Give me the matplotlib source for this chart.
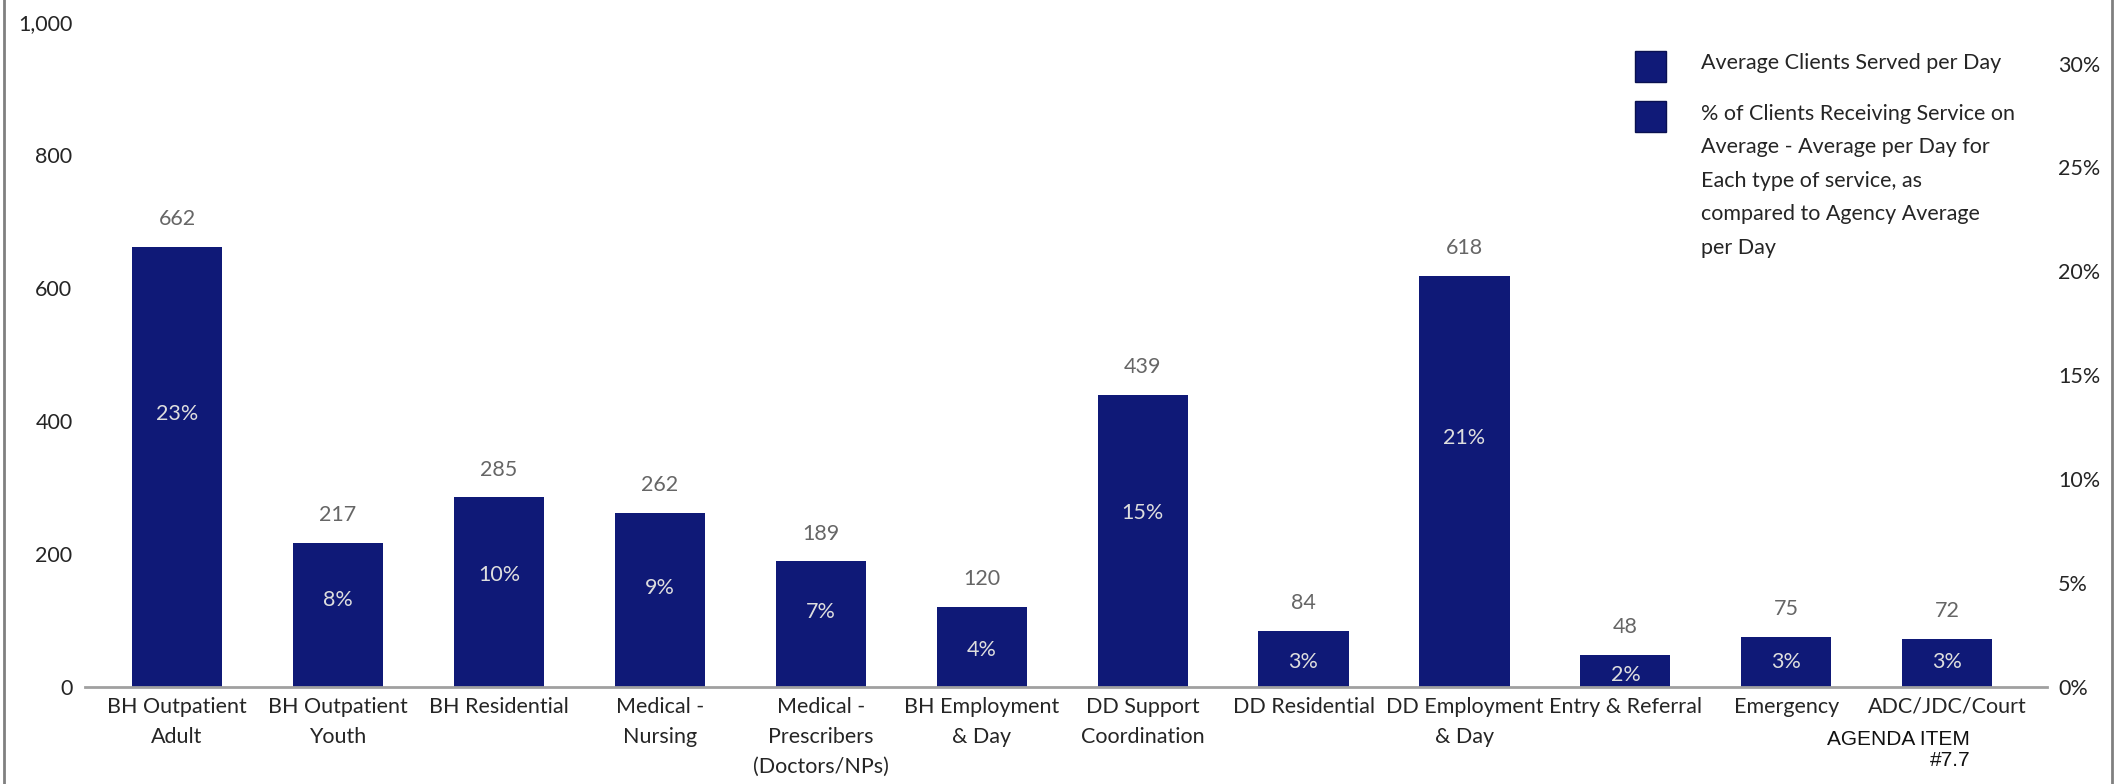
import matplotlib
matplotlib.use("Agg")
import matplotlib.pyplot as plt
from matplotlib.patches import Rectangle
from matplotlib.lines import Line2D
from matplotlib.ticker import FuncFormatter

plt.rcParams['font.family'] = ['Lato', 'DejaVu Sans']

# data
services = ["BH Outpatient\nAdult", "BH Outpatient\nYouth", "BH Residential",
            "Medical -\nNursing", "Medical -\nPrescribers\n(Doctors/NPs)",
            "BH Employment\n& Day", "DD Support\nCoordination", "DD Residential",
            "DD Employment\n& Day", "Entry & Referral", "Emergency", "ADC/JDC/Court"]
clients = [662, 217, 285, 262, 189, 120, 439, 84, 618, 48, 75, 72]
pct = [23, 8, 10, 9, 7, 4, 15, 3, 21, 2, 3, 3]

legend_labels = ["Average Clients Served per Day",
                 "% of Clients Receiving Service on\nAverage - Average per Day for\n"
                 "Each type of service, as\ncompared to Agency Average\nper Day"]

BAR = '#0f1977'
TXT = '#252525'
W, H = 2115, 784
FS = 15.5

fig = plt.figure(figsize=(W / 100, H / 100), dpi=100)
ax = fig.add_axes([85 / W, 97 / H, (2047 - 85) / W, (687 - 22) / H])

x = list(range(len(services)))
ax.bar(x, clients, width=0.56, color=BAR, zorder=2)
ax.set_xlim(-0.572, 11.62)
ax.set_ylim(0, 1000)
ax.set_yticks(range(0, 1001, 200))
ax.yaxis.set_major_formatter(FuncFormatter(lambda v, p: f"{int(v):,}"))
ax.set_xticks(x)
ax.set_xticklabels(services, fontsize=FS, color=TXT, linespacing=1.64, va='top')
for s in ['top', 'right', 'left']:
    ax.spines[s].set_visible(False)
ax.spines['bottom'].set_color('#a0a0a0')
ax.spines['bottom'].set_linewidth(2)
ax.tick_params(axis='both', length=0, labelsize=FS, labelcolor=TXT)
ax.tick_params(axis='y', pad=9)
ax.tick_params(axis='x', pad=7)

for i, v in enumerate(clients):
    ax.annotate(str(v), (i, v), xytext=(0, 20), textcoords='offset points',
                ha='center', va='center', fontsize=FS, color='#666666')

# right percentage axis
ax2 = ax.twinx()
ax2.set_ylim(0, 32)
ax2.set_yticks(range(0, 31, 5))
ax2.yaxis.set_major_formatter(FuncFormatter(lambda v, p: f"{int(v)}%"))
for s in ax2.spines.values():
    s.set_visible(False)
ax2.tick_params(axis='y', length=0, labelsize=FS, labelcolor=TXT, pad=8)

# hidden line series carrying the % labels
ax3 = ax.twinx()
ax3.set_ylim(1.0, 54.5)
ax3.axis('off')
ax3.set_xlim(ax.get_xlim())
for i, p in enumerate(pct):
    ax3.text(i, p, f"{p}%", ha='center', va='center', fontsize=FS, color='#dedede')

# legend
def fx(px):
    return px / W

def fy(py):
    return 1 - py / H

for top in [51, 101]:
    fig.add_artist(Rectangle((fx(1635), fy(top + 31)), 31 / W, 31 / H,
                             transform=fig.transFigure, facecolor='#101a78',
                             edgecolor='#0a1050', linewidth=1))
fig.text(fx(1701), fy(63), legend_labels[0], fontsize=FS, color=TXT, va='center')
fig.text(fx(1701), fy(104), legend_labels[1], fontsize=FS, color=TXT, va='top',
         linespacing=1.84)

fig.text(fx(1970), fy(750), "AGENDA ITEM\n#7.7", ha='right', va='center',
         fontsize=15, color='#111111', linespacing=1.07,
         family=['Liberation Sans', 'DejaVu Sans'])

# visual frame edges
fig.add_artist(Line2D([fx(4), fx(4)], [0, 1], transform=fig.transFigure,
                      color='#808080', linewidth=2))
fig.add_artist(Line2D([fx(2112), fx(2112)], [0, 1], transform=fig.transFigure,
                      color='#808080', linewidth=2))

fig.savefig("out.png", dpi=100)
